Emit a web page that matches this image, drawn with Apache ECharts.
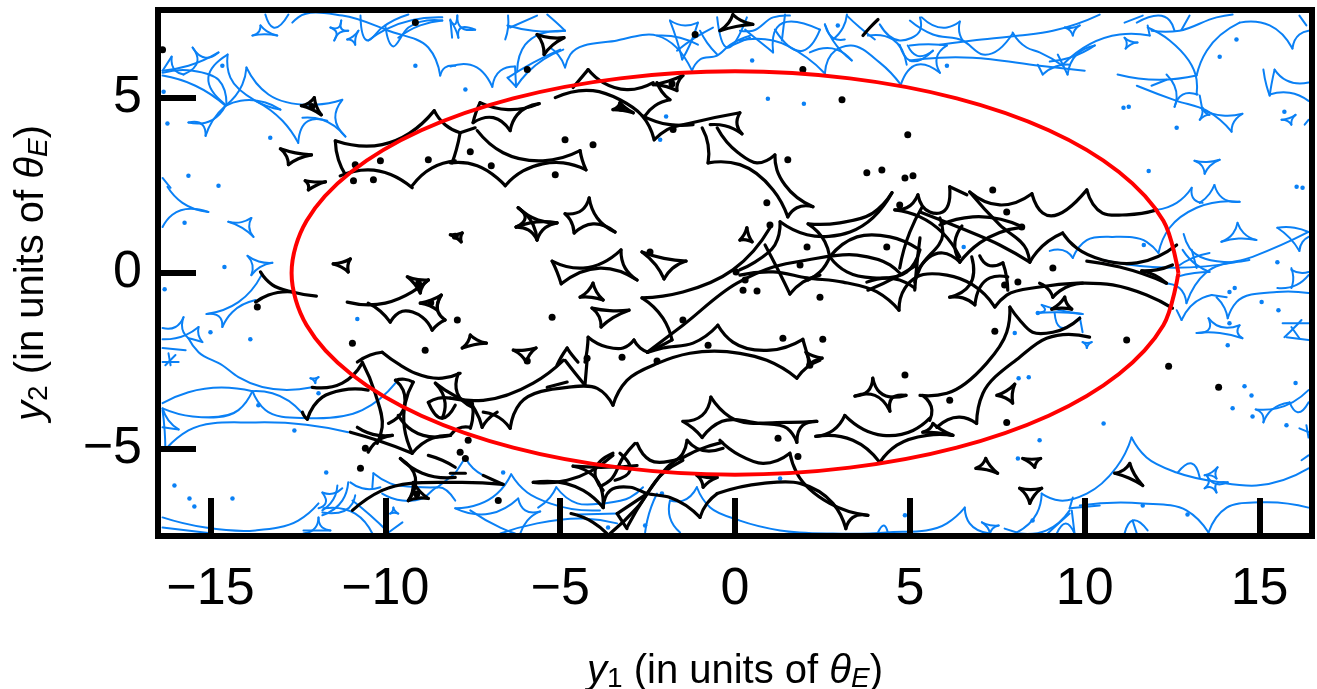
<!DOCTYPE html>
<html><head><meta charset="utf-8">
<style>html,body{margin:0;padding:0;background:#fff}#c{width:1317px;height:689px}</style>
<script src="https://cdn.jsdelivr.net/npm/echarts@6/dist/echarts.min.js"></script>
</head><body><div id="c"></div>
<script>
const xTicks=[-15,-10,-5,0,5,10,15];
const yTicks=[-5,0,5];
const ellipseX=[12.68,12.25,10.98,8.97,6.34,3.28,0,-3.28,-6.34,-8.97,-10.98,-12.25,-12.68,-12.25,-10.98,-8.97,-6.34,-3.28,0,3.28,6.34,8.97,10.98,12.25,12.68];
const ellipseY=[0,1.49,2.88,4.07,4.98,5.55,5.75,5.55,4.98,4.07,2.88,1.49,0,-1.49,-2.88,-4.07,-4.98,-5.55,-5.75,-5.55,-4.98,-4.07,-2.88,-1.49,0];
const blackCurves=[
[-11.43,3.77,-10.09,3.66,-8.6,4.63],[-11.43,3.77,-11.34,3.23,-11.14,2.8],[-11.29,2.77,-10.49,2.94,-9.23,2.43],[-9.23,2.49,-8.66,3.0,-8.0,3.2],[-8.6,4.63,-8.29,4.23,-7.86,4.0],[-7.86,4.0,-7.97,3.51,-8.09,3.14],[-7.86,4,-7.43,4.14],
[-7.49,4.29,-7.4,4.6,-7.29,4.86],[-7.29,4.86,-6.49,4.66,-5.6,4.83],[-7.49,4.29,-6.91,4.43,-6.43,4.06],[-6.43,4.06,-6.23,4.51,-5.6,4.83],[-7.37,4.06,-6.63,3.43,-5.49,3.2,-4.43,3.49],[-4.43,3.49,-4.37,3.23,-4.26,2.94],[-4.26,2.94,-4.91,3.14,-6.06,2.91,-6.57,2.49],[-8.14,3.14,-7.37,3.06,-6.8,2.71,-6.57,2.49],
[-5.14,5,-4.06,5.2,-3.29,4.94,-2.66,4.49,-2.31,3.8],[-4.2,5.8,-4.63,5.29],[-4.2,5.8,-3.77,5.43,-3.09,5.23,-2.34,5.43],[-2.23,5.43,-2.09,5.17,-1.86,4.94],[-1.86,4.94,-2.29,4.77,-2.57,4.49],[-2.66,4.49,-1.86,4.23,-1.2,4.23],[-2.31,3.8,-1.94,4.09,-1.2,4.29,0.14,4.57],[.14,4.57,.06,4.23,.2,3.97],[.2,3.97,-.29,4.2,-.71,4.23],
[-.94,4.14,-.77,3.66,-.77,3.14],[-.77,3.14,.14,3.09,1.09,2.37,1.51,1.6],[-.51,4.14,.09,3.43,.63,3.14,1.14,3.37],[1.14,3.37,1.2,2.94,1.43,2.51,2.23,1.89],[1.51,1.6,1.77,1.86,2.23,1.89],
[-13.57,.03,-13.23,-.34,-12.66,-.54,-11.97,-.66],[-13.71,-.83,-13.34,-.63,-12.66,-.54],[-11.09,-.83,-10,-.86,-9.23,-.54,-8.77,-.2],[-10.49,-.86,-10.14,-1.09,-9.86,-1.4],[-9.86,-1.4,-9.51,-1.09,-8.94,-1.26,-8.66,-1.63],[-8.66,-1.63,-8.49,-1.46,-8.29,-1.34],[-8.4,-.63,-8.49,-1.11,-8.29,-1.34],
[-6.2,1.86,-5.77,1.37,-5.66,.94],[-6.26,1.31,-5.86,1.43,-5.09,1.43],
[-2.66,-.71,-1.49,-.54,-.06,.09,1,1.29],[-2.66,-.71,-2.06,-1.29,-1.8,-1.91],[-2.51,-2.26,-1.49,-1.49,.06,-.29,1.09,.17,2.06,.37,3.49,.51,4.43,.23,4.71,0],[1.29,1.46,1.14,.8,.57,.31,.14,.09],[.86,.8,1.23,.09,1.57,-.6],[1.57,-.6,1.94,-.26,2.43,-.06],
[1.29,1.46,2.06,1.09,3.29,1.17,4.49,2.29],[2.09,1.4,3,1.43,3.94,1.71,4.49,2.29],[2.09,1.4,2.57,.89,2.71,.46],[2.71,.46,2.43,.03,2.09,-.2],[2.71,.46,3.49,1.03,4.43,1.03,5.2,.71],[2.71,.46,3.2,.03,3.94,-.14,4.91,.03,5.29,.66],
[.14,-.06,1.09,.03,2.06,-.14,3.09,-.26,4.06,-.54,4.69,-1.06],[4.69,-1.06,4.86,-.43,5.2,-.11,6.06,-.06,6.8,-.34,7.43,-.97],[7.43,-.97,7.77,-.63,8.71,-.4,9.8,-.29,10.8,-.34,11.77,-.63,12.51,-1],
[3.8,-.49,4.71,-.06,5.2,.23],[3.77,-.26,4.71,-.2,5.14,-.43],[5.29,1,5.2,.23,5.14,-.49],[5.34,1.86,5,1.17,4.71,.14],[5.23,2.23,4.91,1.86,4.57,1.8],[5.23,2.23,5.57,1.74,5.86,1.71,6.14,2.46],[4.57,1.8,5.29,1.6,6.43,.46],[5.29,1.74,6.43,1.29,7.57,.8,8.43,.31],[8.43,.31,8.34,.66,7.57,1.37,6.71,2.31],[6.71,2.31,7.57,1.94,8.49,2.26],[8.49,2.26,8.8,1.71,10.06,2.37],[10.06,2.37,10.51,1.71,11.2,1.66,12.06,1.8],[6.14,2.46,6.63,2.23],
[5.86,1.57,5.94,1.09,5.29,.14,5.14,-.26],[5.86,1.37,6.8,1.6,8.23,1.31],[6.49,1.34,6.29,.89,6.43,.31],[6.43,.31,5.94,.57,5.2,.03],[6.43,.31,7,.86,8.23,1.31],
[7,.49,7.23,.23,7.66,.29],[7.66,.29,7.77,-.14,7.8,-.49],[7.8,-.11,7.29,-.14,6.86,-.91],[6.86,-.91,6.51,-.71,6.14,-.69],[6.14,-.69,6.71,-.34,6.77,.46],
[8.71,-.29,9,-.51,9.09,-.69],[9.09,-.69,9.29,-.51,9.94,-.29],
[8.43,.31,8.63,.6,9.37,1.14],[9.37,1.14,9.77,.71,10.51,.37,11.49,.29,12.63,.8],[10.06,.34,11,.17,12.34,-.29],[11.63,.06,12,-.06,12.34,-.29],[11.63,.06,12.06,.09,12.51,.23],
[7.86,-.97,8.14,-1.34,8.51,-1.69,9.09,-1.69,9.86,-1.29],[7.86,-.97,7.77,-1.69,7.2,-2.57,6.06,-3.43,5.29,-3.49],[10.14,-1.83,8.91,-1.86,8.14,-2.4,7.09,-3.43,6.91,-4.29],[6.91,-4.29,6.43,-4.11,5.77,-4.4],[5.37,-3.49,5.63,-3.91,5.57,-4.2],[5.57,-4.14,5.09,-4.49,4.23,-4.63,3.14,-4.06],[3.14,-4.06,2.8,-4.49,2.31,-4.66],[2.31,-4.66,3.37,-4.77,4.14,-5.4],[4.14,-5.4,4.63,-4.91,5.49,-4.63,6.23,-4.63],
[-.69,-3.54,-.14,-4.11,1.49,-4.26,2.34,-4.23],[-.94,-4.69,-.37,-4.23,.71,-4.29,1.49,-4.43,1.77,-4.83],[2.34,-4.23,1.94,-4.34,1.77,-4.83],[-1.49,-4.23,-.94,-4.06,-.69,-3.54],[-1.49,-4.23,-1.2,-4.43,-.94,-4.69],
[-2.49,-2.26,-2.06,-2.14,-1.2,-2,-.49,-1.49],[-.49,-1.49,-.06,-1.97,1,-2.2,1.94,-1.89],[-3.49,-3.77,-3.09,-3.06,-2.2,-2.57,-1.29,-2.29,.14,-2.29,.91,-2.49,1.77,-3],[1.77,-3,2.06,-2.69,2.43,-2.49],[1.94,-1.89,2.03,-2.2,2.14,-2.54],[-1.8,-1.91,-2.14,-2.09,-2.51,-2.26],
[-4.2,-1.83,-3.66,-2.11,-3.2,-2.14,-2.89,-1.91],[-2.89,-1.91,-2.71,-2.14,-2.49,-2.26],[-4.2,-1.83,-4.23,-2.2,-4.29,-2.54],[-5.09,-2.63,-4.97,-2.4,-4.8,-2.14],[-4.8,-2.14,-4.66,-2.34,-4.49,-2.54],
[-8.14,-3.57,-7.2,-3.63,-5.77,-3.14,-4.91,-2.49],[-7.91,-2.86,-7.94,-3.43,-7.51,-3.83],[-10.09,-2.26,-9.57,-2.63,-9.14,-2.86,-8.37,-3,-7.86,-2.86],[-10.8,-2.54,-10.43,-2.34,-10.09,-2.26],[-12.09,-3.26,-11.23,-3.14,-10.66,-2.57],[-12.23,-4.17,-11.8,-3.54,-11.23,-3.34,-10.49,-3.34],[-12.37,-3.97,-12.31,-4.09,-12.23,-4.17],[-10.66,-2.54,-10.29,-3.43,-10.09,-4.4,-10.23,-4.86],
[-9.71,-3.06,-9.49,-3.34,-9.49,-3.91,-9.91,-4.29],[-9.2,-3.11,-9.43,-3.71,-9.23,-5.14],[-9.71,-3.06,-9.46,-3.03,-9.2,-3.11],[-11,-4.54,-10.23,-4.77,-9.23,-5.14],[-10.8,-4.4,-10.2,-4.63,-9.8,-4.63],[-9.8,-4.63,-10.09,-4.71,-10.49,-5.11],[-9.63,-4.06,-9.23,-4.49,-8.14,-4.63],[-8.14,-4.63,-8.66,-4.71,-9.23,-5.14],
[-8.77,-3.69,-8.37,-4.14,-8,-3.77],[-8.57,-3.14,-8.29,-3.71,-8.37,-4.14],[-8.57,-3.14,-8.29,-3.34,-7.57,-3.71],[-8.77,-3.69,-8.49,-3.57,-8.14,-3.57],[-7.51,-3.71,-7.51,-4.2,-7.57,-4.43],[-8.14,-4.63,-7.91,-4.43,-7.57,-4.4],
[-7.2,-3.97,-6.86,-4.06,-6.43,-4.43],[-6.43,-4.43,-6.14,-3.71,-4.8,-3.26,-3.94,-3.29,-3.49,-3.77],[-7.23,-4.4,-7.09,-4.2,-6.8,-3.97],[-7.23,-4.4,-7.43,-3.91,-7.57,-3.71],[-5.37,-3.26,-4.8,-3.11],[-4.86,-2.49,-4.57,-2.86,-4.29,-3.2],[-4.23,-2.49,-4.29,-3.2],
[-9.57,-5.29,-8.94,-5.71,-8,-5.83],[-9.57,-5.29,-9.14,-5.83,-9.34,-6.49],[-8.77,-5.2,-8.37,-5.34,-8,-5.54],[-10.94,-6.77,-10.09,-6.2,-8,-5.97,-6.63,-6.03],[-7.2,-5.77,-6.63,-6.03],[-8.14,-5.71,-7.71,-5.71],
[-5.77,-5.97,-4.8,-5.91,-3.49,-5.2],[-5.77,-5.97,-4.34,-6.2,-3.77,-6.69],[-4.63,-5.51,-3.66,-5.54,-2.8,-5.49],[-4.63,-5.51,-4.06,-5.77,-3.77,-6.69],[-2.8,-4.86,-2.43,-5.34,-1.57,-5.29,-1.09,-5.06,-.37,-4.83],[-.43,-4.77,.14,-5.2,.8,-5.43,1.57,-5.14],[1.57,-5.14,1.77,-5.71,2.71,-6.57,3.8,-6.91],[3.8,-6.91,3.37,-6.97,3.17,-7.29],[3.17,-7.29,2.8,-6.57,1.86,-6,.8,-6,-.51,-6.29],[-1,-6.97,-.8,-6.57,-.51,-6.29],
[-1.37,-4.77,-1.09,-5,-.34,-5],[-1.37,-4.77,-1.49,-5.14,-1.94,-5.54,-2.51,-6.29,-3.09,-7.26],[-1.49,-5.34,-2.06,-5.71,-2.8,-6.69,-3.57,-7.43],[-2.86,-4.86,-3.2,-5.26,-3.57,-5.91,-3.8,-6.06],[-3.77,-6.69,-3.57,-6.2,-3,-6.11,-2.51,-6.29,-1.86,-6.4,-1,-6.97],[-4.69,-6.86,-4.06,-7.11,-3.66,-7.43],[-3.37,-6.86,-2.51,-6.29],[-3.37,-6.86,-3.09,-7.29],[-3.29,-5.14,-3,-5.63,-3.43,-5.91],[-3.49,-5.14,-4,-5.63,-3.77,-6.2],
[4.09,7.23,3.86,7,3.66,6.77]
];
const blackLoops=[
[-6.2,1.86,-5.63,1.51,-5.09,1.43,-5.43,1.29,-5.66,.94,-5.91,1.23,-6.26,1.31,-6,1.57],[-4.86,1.69,-4.37,1.8,-4.17,2.14,-3.94,1.57,-3.43,1.17,-4.06,1.4,-4.6,1.14,-4.71,1.51],[-5.23,.34,-4.34,.14,-3.26,.66,-3.14,.14,-2.8,-.2,-3.86,.14,-4.97,-.31,-5.09,.03],
[3.43,-3.51,3.8,-3.37,3.94,-3,4.14,-3.4,4.89,-3.49,4.49,-3.57,4.43,-3.94,4,-3.49]
];
const blackTris=[
[-12.4,4.77,-12.03,5,-11.83,4.51],[-13,3.54,-12.11,3.37,-12.77,3.09],[-5.66,6.8,-4.89,6.71,-5.46,6.23],[-.43,6.91,-.06,7.37,.51,7.09],[-11.49,.26,-11,.4,-11.06,.03],[-12.29,2.63,-11.71,2.6,-12.2,2.37],[-8.14,1.09,-7.8,1.14,-7.83,.89],[-9.37,-.11,-8.77,-.2,-9,-.57],[-9,-.86,-8.4,-.63,-8.51,-1.06],[-2.66,.6,-1.4,.34,-2.03,-.17],[-4.43,-.69,-4.06,-.29,-3.77,-.77],[-4.09,-1,-3.03,-1.06,-3.83,-1.54],[-7.8,-2.14,-7.57,-1.77,-7.11,-2],[-6.34,-2.2,-5.69,-2.14,-5.97,-2.54],[5.37,-4.54,5.66,-4.29,6.23,-4.63],[2.03,-2.26,2.49,-2.43,2.09,-2.63],[-9.34,-6.49,-9.2,-5.97,-8.77,-6.43],[-1.09,-5.77,-.51,-5.83,-.91,-6.11],[6.89,-5.57,7.17,-5.29,7.51,-5.71],[8.23,-5.29,8.74,-5.29,8.57,-5.54],[8.14,-6.14,8.77,-6.14,8.43,-6.57],[10.86,-5.71,11.29,-5.43,11.66,-6.06],[7.49,-3.49,8,-3.17,7.94,-3.71],[9.06,-1.03,9.43,-.69,9.63,-1.03],[.14,.94,.34,1.29,.49,.89],[-2.34,5.37,-1.49,5.63,-1.66,5.2],[-3.49,4.66,-3.29,4.86,-2.91,4.57]
];
const blackDots=[[-16.37,6.37],[-5.94,5.8],[-9.14,7.14],[1.94,5.8],[3.06,4.94],[4.94,3.94],[1.51,3.23],[3.77,2.86],[4.2,2.94],[5.09,2.77],[4.86,2.71],[-10.14,3.2],[-10.86,3.09],[-10.34,2.66],[-8.77,3.23],[-10.91,2.63],[-6.97,3.06],[-5.14,2.8],[-4.06,3.66],[-4.86,3.8],[-1.77,4.09],[-1.14,6.8],[-7.57,3.46],[-13.66,-.97],[-10.94,-2],[-8.86,-2.2],[-5.23,-1.26],[-7.94,-1.34],[-2.43,.6],[-3.23,-2.4],[-.77,-2.06],[-1.49,-1.34],[.91,2],[1,1.37],[2.06,.74],[1.86,.23],[4.34,.74],[.63,-.51],[2.43,-.69],[.23,-.49],[1.37,-1.86],[2.51,-1.89],[7.43,-1.66],[7.77,1.74],[7.37,2.37],[4.71,1.94],[8.09,-.26],[7.71,-.34],[9.09,.14],[11.2,-1.91],[8.2,1.31],[12.4,-2.66],[13.83,-3.26],[-10.71,-5.57],[-10.57,-5],[-6.77,-6.49],[-7.63,-4.77],[-5.94,-2.51],[-2.23,-2.51],[-4.23,-2.43],[1.23,-4.71],[1.8,-5.23],[4.86,-2.91],[6.14,-3.63],[7.77,-4.26],[2.14,-2.63],[.03,.03],[.29,-.2],[-7.86,-5.11],[-7.71,-5.29],[-1.8,5.4],[-3.25,4.7],[-9.1,-6.3],[-12.1,4.75],[-8,1.05],[-8.7,-.85],[-9.05,-.3]];
const blueCurves=[
[-16.37,5.71,-15.51,5.77,-14.77,5.51,-14.54,4.8],[-16.37,5.63,-15.43,5.34,-14.57,4.77],[-16.37,5.77,-15.63,5.91,-14.77,6.29],[-15.51,6.43,-15.37,6.06,-15.77,5.66],[-15.51,6.43,-15.14,6.14,-14.77,6.29],[-16.11,6.17,-16,5.77,-15.77,5.66],[-16.11,6.17,-16.37,5.77],[-14.51,6.23,-15.06,5.57,-14.57,4.8],[-14.51,6.23,-14.43,5.57,-13.71,4.91,-13,4.66],[-14.57,4.77,-14.14,4.91,-13.43,4.86,-13,4.66],[-13.97,5.86,-14.09,5.37,-14.57,4.77],[-13.97,5.86,-13.34,5.09,-12,4.8,-11.23,4.94],[-11.23,4.94,-11.43,4.43,-11.14,3.89],[-11.14,3.89,-11.8,4.37,-12.37,4.43],[-12.49,3.71,-12.2,4.34,-11.66,4.34],[-12.49,3.71,-12.94,4.34,-13.71,4.91],[-15.63,4.29,-14.94,4.37,-14.57,4.77],[-15.63,4.29,-15.23,4.23,-15.14,3.91],[-15.14,3.91,-14.94,4.34,-14.57,4.77],
[-13.43,7.37,-13.2,7,-12.77,7.37],[-12.66,7.14,-12.49,7.29,-11.23,7.34,-9.91,6.91,-8.77,6.43,-8.43,5.63],[-8.43,5.63,-8.29,5.86,-8,5.91],[-10.71,7.34,-10.49,6.63,-10.09,7,-9.34,7.37],[-10.49,6.63,-10,6.94,-8.37,7.29],[-10,7.06,-9.77,6.46,-9.34,7,-8.37,7.2],[-9.63,6.71,-9,7.06,-8.37,7.2],[-8.14,7.23,-8.09,6.71],
[-8.14,5.89,-7.57,5.94,-6.94,5.31],[-6.94,5.31,-6.71,5.77,-6.29,5.89],[-6.29,5.89,-6.26,5.31],[-6.26,5.31,-6.51,5.57],[-6.49,5.57,-5.77,6,-5,6.37],[-6.26,5.31,-5.94,5.71,-4.91,6.37],[-6.23,5.77,-6,6.51,-4.86,6.91],[-4.86,6.91,-5.14,7.17,-5.37,7.37],[-6.49,7.34,-6.49,7,-6.57,6.66],[-6.51,7.06,-5.77,6.91,-4.86,6.91],[-6.43,7,-5.66,7.34],
[-4.86,5.86,-4.71,6.23,-3.37,6.63,-2.23,6.77,-1.23,5.77],[-4.86,5.86,-5.06,6.23,-5.29,6.43],[-1.23,5.77,-1,6.09,-.51,6.2,-.14,6.51,.43,6.77],[-1.86,7.2,-1.66,6.63,-1.51,6.09],[-1.86,7.2,-1.43,7.06,-1.06,7.14],[-1.06,7.14,-1.29,6.51,-1.51,6.09],[-1.66,6.34,-1.14,6.71,-.63,7],[-1.06,6.51,-1.57,6.71,-2.23,6.77],[-.51,6.23,-.8,6.57,-1,6.91],[-.51,7.29,-.23,6.43,.34,7.29],[-.23,6.43,.43,6.71],
[.14,6.91,.51,6.91,1.09,7.29,1.57,7.34],[.14,6.63,1.09,6.63,2.06,6.14,2.57,5.69],[2.57,5.69,2.86,6.34,3.29,6.49,4.14,6,4.74,5.37],[4.74,5.37,5.2,5.94,5.86,5.71],[.29,6.94,.63,6.66,1.09,6.29],[1.09,6.29,1.2,7,2.43,6.94],[1.14,6.94,1.94,6.34,2.43,6.94],[1.43,7.37,1.34,6.63],[2.14,6.29,2.91,6.37,3.34,6.06],[2.57,7.09,2.8,6.63,3.34,6.06],[2.57,7.09,2.91,6.66,3.14,6.66],[2.8,6.66,3.09,7,3.2,7.37],[3.2,7.34,3.57,7,4,6.66],[3.8,6.77,4.51,6.66,4.91,5.94],[4.14,7.09,4.71,6.63,5.29,6.91,5.29,7.29],[4.71,6.51,5,6.06,5.66,6.34],[4.94,6.49,5.2,6.2,5.66,6.34],[5,6.49,5.86,6.51,6.06,6.49],[5.86,5.71,5.77,6.14,6.06,6.49],[5,6.06,5.86,6.14,6.8,6.14,8.71,5.91,10,5.77],[5.34,7.29,6.06,7,6.43,7.17],[6.43,7.17,6.43,6.8,6.51,6.63],[5,7.2,5.66,6.8,6.51,6.63,7.09,6.23,7.94,6.83],[5.86,6.51,6.8,6.63,8.14,6.77,9.09,6.91,10.43,7.37],[7.94,6.86,8.34,6.43,8.71,6.29,9.37,5.91],
[9.23,6.23,9.51,5.66],[9.51,5.66,9.77,6.23,10.29,6.49],[9,6.03,9.57,6.14,10.29,6.49],[8.66,5.94,8.8,5.66],[8.8,5.66,9.17,5.89,9.57,5.94],[9.37,5.94,11,6.8,11.86,6.77],[11.86,6.77,11.8,7.06],[11.14,7.14,11.66,7.34],[11.8,7,12.43,6.63,13.2,5.51,13.2,5.09],[11.91,6.91,12.71,6.91,13.77,7.29,14.23,7.37],[12.57,6.91,12.43,7.2,11.49,7.14],[12.77,6.94,13,7.34],[13.2,5.63,13.49,6.34,14.43,7.14],[14.43,7.14,15.29,7.06,15.94,6.4],[15.94,6.4,16.14,6.8,16.4,6.91],[16.14,7.34,16.34,7.06],[10.94,5.66,12.14,5.51,13.2,5.63],[11.49,5.34,12.63,4.91,13.49,4.63,14.2,4.03],[12.34,5.66,12.63,5,12.57,4.74],[12.57,4.74,12.8,5.09,13.23,5.09],[11.91,5.34,12.34,5.51],[13.29,5.06,13.37,4.63],[14.2,4.03,14.23,4.23,14.51,4.54],[14.51,4.54,13.94,4.49,13.37,4.66],[15.11,5.8,15.2,5.34,15.29,5.06],[15.43,5.8,15.77,5.49,16.4,5.43],[15.43,5.8,15.34,5.37,15.29,5.06],[15.29,5.09,15.86,5.14,16.4,4.91],[16.29,4.23,16.4,4.37],
[12.06,1.8,12.63,2,13.06,2.43],[13.06,2.43,13.14,2.09,13.37,2],[13.71,2.51,13.94,2.14,14.43,2.03],[14.43,2.03,13.2,1.86,12.43,1.29,12.11,.57],[13.29,2,13.57,2.26,13.71,2.51],[12.11,.57,11.77,.89,10.8,1.03,10.06,.94,9.66,.43],[9.66,.43,9.49,.6,9,.63],[10.51,.37,11.94,.17,14.34,.31],[12.83,1.11,13,.71,14.23,.31,14.71,.37],[12.63,-.11,13.14,0,13.57,.03],[13.57,.57,13.09,.43,12.63,.17],[13.06,.66,13.2,.14],[13.57,.03,13.2,.23,12.8,.66],[16.4,1.17,14.8,.46,13.49,.03,12.91,-.86],[12.91,-.86,12.71,-.43,12.29,-.29],[15.51,1.29,16,1.29,16.4,1.17],[15.51,1.29,15.86,1,16.14,.63],[16.14,.63,16.23,.89,16.4,1.03],[12.77,-1.34,12.63,-1.06],[12.77,-1.34,13.37,-.71,13.63,-.63],[13.63,-.63,14.06,-.69],[13.77,-.69,14,-1,14.09,-1.29],[14.09,-1.29,14.34,-.83,15.49,-.54,16.4,-.57],[13.54,-1.29,13.77,-1.49,14.43,-1.49],[13.2,-1.71,13.57,-1.57,13.54,-1.29],[13.2,-1.71,13.86,-1.71,14.51,-1.86],[14.51,-1.86,14.37,-1.69,14.43,-1.49],[15.91,.14,15.94,-.34,15.91,-.43],[15.51,-.43,16.06,-.34,16.4,-.06],[15.91,.09,16.23,0,16.4,.03],[15.66,-1.43,16.4,-1.43],[16.2,-1.34,16.06,-1.49,15.71,-1.83],[15.91,-1.54,16.14,-1.86],[15.77,-1.83,16.4,-1.91],[9.14,-1.14,9.29,-1.54,9.86,-1.26],[9.86,-1.26,9.94,-1.69],
[-16.37,1.31,-16.09,1.66,-15.06,1.74],[-16.23,2.46,-15.8,2,-15.06,1.74],[-16.37,2.71,-16.14,2.43],[-15.11,-1.17,-14.2,-.83,-13.54,-.06],[-15.11,-1.17,-14.71,-1.29,-14.66,-1.54],[-14.66,-1.54,-14.37,-1.11,-13.71,-.77],[-16.37,-1.57,-16,-1.54,-15.77,-1.26],[-15.77,-1.26,-15.77,-1.69,-15.63,-1.86],[-16.37,-1.89,-15.71,-1.77,-15.34,-1.54],[-15.34,-1.54,-15.34,-1.77,-15.23,-1.97],[-15.23,-1.97,-15.43,-1.91,-15.63,-1.86],[-15.63,-1.86,-15.34,-2.26,-14.66,-2.63,-14.2,-2.97,-12.09,-3.26],[-16.37,-2.14,-15.71,-2.2],[-16.2,-2.29,-16.14,-2.63],[-16,-2.34,-16.29,-2.63],[-16.37,-2.54,-15.91,-2.54],
[-16.37,-3.71,-15.63,-3.4,-13.8,-3.37],[-13.8,-3.37,-14.2,-3.91,-15.51,-4.09,-16.37,-3.86],[-13.8,-3.37,-13.23,-3.43,-12.37,-4],[-13.8,-3.37,-13.43,-3.91,-12.2,-4.14,-10.66,-3.91,-9.71,-3.14],[-16.37,-3.86,-16.2,-4.2,-15.91,-4.46],[-16.37,-4.4,-15.91,-4.46],[-16.37,-3.91,-16.31,-4.49,-16.29,-4.97],[-16.23,-4.97,-15.63,-4.49,-13.71,-4.26,-11.06,-4.54],[-16.37,-6.97,-15.14,-7.26,-13.71,-7.34,-12.49,-7.06,-11.91,-6.57],[-16.37,-7.26,-14.94,-7.43],[-10.34,-5.71,-10.37,-6.11],[-11,-5.97,-10.66,-6.14,-10.14,-6.11],[-10.34,-5.71,-9.86,-6,-8.94,-6.11,-8.49,-6.11],[-11.06,-5.97,-11.23,-6.49,-11.8,-6.91],[-11.37,-6.06,-11.43,-6.34,-11.8,-6.77],[-11.8,-6.26,-11.71,-6.57,-11.91,-6.71],[-11.8,-6.26,-11.49,-6.29,-11.23,-6.14],[-10.86,-6.34,-10.94,-6.57,-11.8,-6.83],[-11.77,-6.71,-10.86,-6.86,-10.37,-7.43],[-11.91,-6.97,-12,-7.26,-12.34,-7.43],[-11.91,-6.97,-11.8,-7.26,-11.57,-7.34],[-12.34,-7.34,-11.57,-7.34],[-10.94,-6.49,-10.43,-6.91,-9.91,-7.4],[-9.51,-7.11,-9.91,-7.4],[-10.09,-6.29,-9.51,-6.49,-8.94,-6.43,-8.49,-6.11,-8,-6.49],[-8.51,-6.11,-8,-5.71],
[-7.71,-5.26,-7.49,-5.57,-7.2,-5.77],[-8,-5.71,-7.71,-5.26],[-6.4,-5.74,-6.8,-6.29,-8,-6.71],[-6.4,-5.74,-5.94,-6.26,-5.29,-6.57,-3.86,-6.77],[-8,-6.71,-7,-6.86,-6.2,-6.43],[-6.2,-6.43,-6,-6.77,-5.57,-6.8],[-5.57,-6.8,-5.94,-7.06,-6.14,-7.43],[-7.57,-6.77,-6.71,-7.26,-6.29,-7.43],[-6.71,-7.43,-5.66,-7.14,-4.34,-7,-3.37,-7.14],[-5.11,-6.11,-5.29,-6.4,-5.63,-6.69],[-5.11,-6.11,-4.51,-6.57,-3.77,-6.57,-3,-6.4,-2.63,-6.11],[-4.49,-6.89,-3.37,-6.86],[-2.23,-6.29,-2.51,-7.06,-2.57,-7.4],[-1.86,-6.49,-1.86,-6.97,-1.57,-7.4],[-1.09,-6.11,-1.49,-6.49,-1.86,-6.49],[-1.09,-6.11,-.71,-6.69,.14,-7.06,1.29,-7.34,2.8,-7.43,4.34,-7.4,6.06,-7.14,6.57,-6.69],[6.57,-6.69,6.71,-7.14,7.29,-7.43],[4.09,-7.4,4.26,-7.2,4.37,-7.4],[7.71,-7.29,8.06,-7.4],[8.06,-7.4,8.63,-6.86,8.77,-6.29],[8.77,-6.29,9.29,-6.49,10.06,-6.29,10.91,-5.54,11.34,-4.69],[11.34,-4.69,11.77,-5.26,12.63,-5.69,13.86,-5.97,14.91,-6.06,16.4,-5.57],[12.66,-5.69,13.06,-5.43,13.29,-5.83],[14.89,-3.89,15.49,-3.86,16.4,-3.34],[14.89,-3.89,15.06,-4,15.11,-4.26],[15.11,-4.26,15.34,-3.91,15.86,-3.69],[15.86,-3.69,16.09,-3.97,16.4,-3.69],[9.66,-6.4,9.57,-6.71],[9.57,-6.71,10.43,-6.63],[9.86,-6.63,11.66,-6.57,12.91,-6.77,13.54,-7.4],[13.54,-7.4,14.06,-6.69,15,-6.54,16.4,-6.69],[8.14,-7.43,8.91,-7.34,9.57,-6.77],[8.94,-7.43,9.29,-7.11,9.57,-6.86],[9.2,-7.43,9.46,-7.14,9.71,-7.43],[9.63,-6.77,9.71,-7.43],[11.14,-7.43,11.37,-7.06,11.8,-7.34],[11.37,-7.06,11.49,-7.43],[16.14,-4.43,16.4,-4.54],[16.34,-4.34,16.4,-4.69],[16.2,-5.34,16.4,-5.2]
];
const blueLoops=[
[-11.57,7,-11.34,7,-11.26,7.2,-11.23,6.94,-11.06,6.91,-11.29,6.86,-11.46,6.63,-11.4,6.86],[-8.14,7.2,-8.03,7.09,-7.94,7.34,-7.86,7.03,-7.43,6.94,-7.89,6.94,-7.91,6.71,-8,6.97],[13.43,-6.14,13.54,-6,13.49,-5.77,13.71,-6,14.09,-5.97,13.74,-6.06,13.77,-6.26,13.6,-6.11]
];
const blueTris=[
[-13.8,6.77,-13.57,7.06,-13.09,6.77],[-10.77,6.91,-10.86,6.51,-11.09,6.66],[9.43,7,9.86,7.06,9.66,6.77],[11.14,6.71,11.51,6.57,11.17,6.4],[13.29,4.37,13.37,4.71,13.57,4.51],[15.63,4.37,16.03,4.51,15.91,4.23],[13.14,3.2,13.86,3.23,13.43,2.83],[13.91,.89,14.37,1.43,14.91,.94],[8.63,-1.14,8.77,-.91,9.94,-1.17],[9.94,-1.97,10.2,-1.97,10.06,-2.14],[-14.49,1.46,-13.83,1.57,-13.77,1.03],[-13.94,.49,-13.23,.29,-13.83,-.06],[-12.14,-3,-11.91,-2.97,-12,-3.14],[-9.77,-6.69,-9.63,-6.86,-9.86,-6.86],[7.06,-7.11,7.54,-7.2,7.29,-7.43],[13.43,-5.77,13.8,-5.54,13.77,-5.86]
];
const blueDots=[[-9.14,5.91],[-13.29,3.86],[-14.66,5.91],[-16.23,4.26],[-16.34,5.17],[-15.63,2.77],[-14.77,2.49],[-7.71,5.23],[-1.97,4.46],[-2.14,3.8],[.49,6.06],[.94,4.97],[1.97,4.83],[2.94,7.06],[6.06,5.91],[14.34,6.66],[13.86,6.17],[11.26,4.74],[11.11,4.71],[12.63,4.14],[11.83,2.91],[15.71,4.6],[11.69,.8],[15.51,.31],[14.14,-.54],[14.29,-.43],[15.06,-.83],[15.54,-1.06],[14.14,-1.43],[14.09,-2.06],[16.06,2.46],[16.23,2.43],[-15.74,1.43],[-14.6,.17],[-16.31,-.46],[-10.8,-1.31],[-15,-1.69],[-13.86,-1.89],[-13.63,-3.77],[-11.91,-3.43],[-12.6,-4.49],[-11.69,-5.69],[-16.03,-6.06],[-15.6,-6.43],[-15.46,-6.66],[-14.37,-6.43],[-6.63,-5.69],[-3.63,-7.26],[-2.57,-7.2],[-2.09,-6.29],[1.29,-5.86],[4.86,-6.91],[8.09,-5.29],[8.71,-4.77],[8.51,-7.06],[8.11,-3],[8.4,-2.97],[10.54,-4.29],[14.23,-3.86],[14.8,-4.09],[15.77,-4.34],[14.57,-3.23],[14.77,-3.49],[16.03,-3.14],[11.66,-6.63],[12.94,-6.89],[6.54,.74],[8,-1.71],[8.66,-1.14]];

const BLACK='#000000',BLUE='#0A80F5',RED='#FF0000';
function pairs(f){const o=[];for(let i=0;i<f.length;i+=2)o.push([f[i],f[i+1]]);return o;}
function loopArcs(f){const p=pairs(f),o=[];for(let i=0;i<p.length;i+=2)o.push([p[i],p[i+1],p[(i+2)%p.length]]);return o;}
function triArcs(f,depth){const c=pairs(f);const g=[0,1].map(k=>(c[0][k]+c[1][k]+c[2][k])/3);
 return [0,1,2].map(i=>{const a=c[i],b=c[(i+1)%3];const e=[0,1].map(k=>(a[k]+b[k])/2);return [a,[0,1].map(k=>e[k]+depth*(g[k]-e[k])),b];});}
function curvePath(p){
 const n=p.length;const f=v=>v.toFixed(2);
 let d='M'+f(p[0][0])+' '+f(p[0][1]);
 if(n===2)return d+'L'+f(p[1][0])+' '+f(p[1][1]);
 const len=[];for(let i=0;i<n-1;i++)len.push(Math.hypot(p[i+1][0]-p[i][0],p[i+1][1]-p[i][1])||1e-3);
 const t=new Array(n);
 for(let i=1;i<n-1;i++){const a=len[i-1],b=len[i];t[i]=[0,1].map(k=>(a*(p[i+1][k]-p[i][k])/b+b*(p[i][k]-p[i-1][k])/a)/(a+b));}
 t[0]=[0,1].map(k=>2*(p[1][k]-p[0][k])/len[0]-t[1][k]);
 t[n-1]=[0,1].map(k=>2*(p[n-1][k]-p[n-2][k])/len[n-2]-t[n-2][k]);
 for(let i=0;i<n-1;i++){const h=len[i]/3;
  d+='C'+f(p[i][0]+t[i][0]*h)+' '+f(p[i][1]+t[i][1]*h)+' '+f(p[i+1][0]-t[i+1][0]*h)+' '+f(p[i+1][1]-t[i+1][1]*h)+' '+f(p[i+1][0])+' '+f(p[i+1][1]);}
 return d;
}
function arcSeries(arcs,color,width,z){
 return {type:'custom',coordinateSystem:'cartesian2d',silent:true,animation:false,clip:true,z:z,
  data:arcs.map((a,i)=>[a[0][0],a[0][1],i]),encode:{x:0,y:1},
  renderItem:(params,api)=>{const pts=arcs[api.value(2)].map(q=>api.coord(q));
   return {type:'path',shape:{pathData:curvePath(pts)},style:{fill:'none',stroke:color,lineWidth:width,lineCap:'round',lineJoin:'round'}};}};
}
const blueArcs=blueCurves.map(pairs);blueLoops.forEach(f=>blueArcs.push(...loopArcs(f)));blueTris.forEach(f=>blueArcs.push(...triArcs(f,0.4)));
const blackArcs=blackCurves.map(pairs);blackLoops.forEach(f=>blackArcs.push(...loopArcs(f)));blackTris.forEach(f=>blackArcs.push(...triArcs(f,0.25)));
const series=[
 arcSeries(blueArcs,BLUE,2,2),
 {type:'scatter',data:blueDots,symbol:'circle',symbolSize:4.5,silent:true,animation:false,z:2,itemStyle:{color:BLUE,opacity:1}},
 arcSeries(blackArcs,BLACK,3.2,3),
 {type:'scatter',data:blackDots,symbol:'circle',symbolSize:7,silent:true,animation:false,z:3,itemStyle:{color:BLACK,opacity:1}},
 {type:'line',data:ellipseX.map((x,i)=>[x,ellipseY[i]]),symbol:'none',smooth:0.33,silent:true,animation:false,z:5,lineStyle:{color:RED,width:4}}
];
const fmt=v=>String(v).replace('-','\u2212');
const font='"Liberation Sans",Arial,sans-serif';
const rich={
 i:{fontFamily:font,fontSize:40,fontStyle:'italic',color:'#000'},
 t:{fontFamily:font,fontSize:40,color:'#000'},
 s:{fontFamily:font,fontSize:28,color:'#000',verticalAlign:'bottom',padding:[14,0,0,0]},
 e:{fontFamily:font,fontSize:28,fontStyle:'italic',color:'#000',verticalAlign:'bottom',padding:[14,0,0,0]}
};
const frame={lineStyle:{color:'#000',width:6,cap:'square'}};
const chart=echarts.init(document.getElementById('c'),null,{renderer:'canvas'});
chart.setOption({
 animation:false,backgroundColor:'#fff',
 grid:{left:158,width:1154,top:10,height:526,containLabel:false,outerBoundsMode:'none'},
 xAxis:[
  {type:'value',position:'bottom',min:-16.5,max:16.5,z:20,splitLine:{show:false},
   axisLine:{show:true,onZero:false,...frame},
   axisTick:{show:true,inside:true,length:38,customValues:xTicks,lineStyle:{color:'#000',width:6}},
   axisLabel:{show:true,customValues:xTicks,formatter:fmt,fontFamily:font,fontSize:52,color:'#000',margin:28},
   name:'{i|y}{s|1}{t| (in units of }{i|\u03B8}{e|E}{t|)}',nameLocation:'middle',nameGap:115,nameTextStyle:{rich:rich,fontFamily:font,fontSize:40,color:'#000'}},
  {type:'value',position:'top',min:-16.5,max:16.5,z:20,splitLine:{show:false},axisLine:{show:true,onZero:false,...frame},axisTick:{show:false},axisLabel:{show:false}}
 ],
 yAxis:[
  {type:'value',position:'left',min:-7.5,max:7.5,z:20,splitLine:{show:false},
   axisLine:{show:true,onZero:false,...frame},
   axisTick:{show:true,inside:true,length:38,customValues:yTicks,lineStyle:{color:'#000',width:6}},
   axisLabel:{show:true,customValues:yTicks,formatter:fmt,fontFamily:font,fontSize:52,color:'#000',margin:16},
   name:'{i|y}{s|2}{t| (in units of }{i|\u03B8}{e|E}{t|)}',nameLocation:'middle',nameGap:105,nameRotate:90,nameTextStyle:{rich:rich,fontFamily:font,fontSize:40,color:'#000'}},
  {type:'value',position:'right',min:-7.5,max:7.5,z:20,splitLine:{show:false},axisLine:{show:true,onZero:false,...frame},axisTick:{show:false},axisLabel:{show:false}}
 ],
 series:series
});
</script></body></html>
